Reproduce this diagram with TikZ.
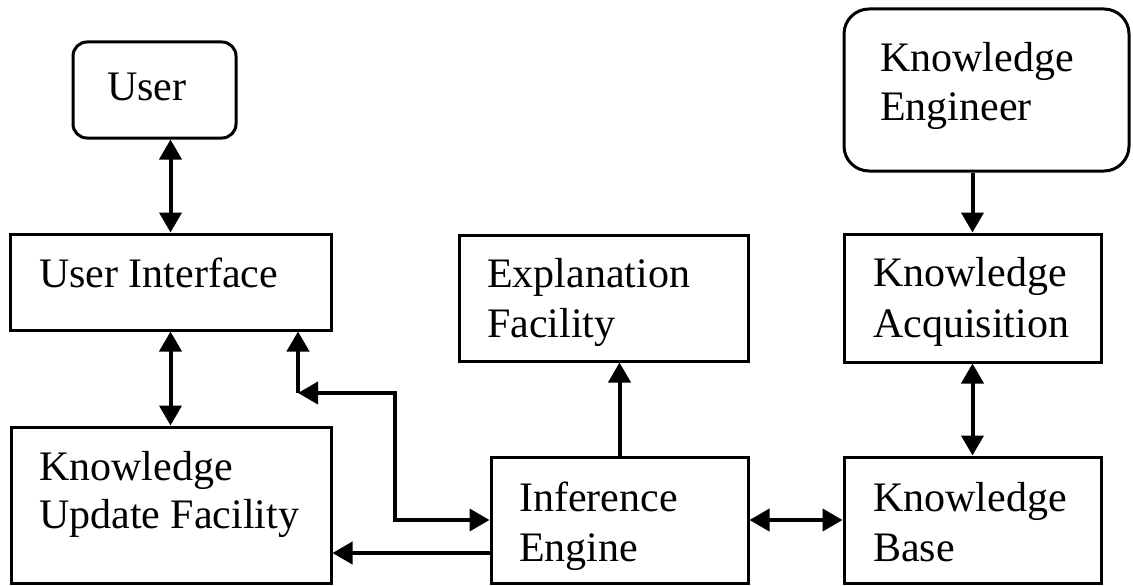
\documentclass[tikz,border=0pt]{standalone}
\usepackage{fontspec}
\setmainfont{Liberation Serif}
\usetikzlibrary{arrows.meta}
\begin{document}
\begin{tikzpicture}[x=1pt,y=-1pt,
  box/.style={draw=black,line width=3pt,minimum width=#1,inner sep=0pt},
  rbox/.style={box=#1,rounded corners=14pt},
  label/.style={anchor=base west,inner sep=0pt,font=\fontsize{42}{50}\selectfont},
  conn/.style={line width=4pt,draw=black},
  tip/.tip={Triangle[length=20pt,width=22pt]}]
\useasboundingbox (0,0) rectangle (1133,586);

% boxes
\node[rbox=163pt,minimum height=96pt] (user) at (154.5,90) {};
\node[box=285pt,minimum height=162pt,rounded corners=25pt] (ke) at (986.5,90) {};
\node[box=321pt,minimum height=96pt] (ui) at (170.5,282) {};
\node[box=289pt,minimum height=126pt] (ef) at (603.5,298) {};
\node[box=257pt,minimum height=128pt] (ka) at (972.5,298) {};
\node[box=320pt,minimum height=156pt] (kuf) at (171,505) {};
\node[box=257pt,minimum height=126pt] (ie) at (619.5,520) {};
\node[box=257pt,minimum height=126pt] (kb) at (972.5,520) {};

% labels
\node[label] (tuser) at (107,100) {User};
\node[label] (tke1) at (880,72) {Knowledge};
\node[label] (tke2) at (880,120) {Engineer};
\node[label] (tui) at (39,287) {User Interface};
\node[label] (tef1) at (487,287) {Explanation};
\node[label] (tef2) at (487,337) {Facility};
\node[label] (tka1) at (873,286) {Knowledge};
\node[label] (tka2) at (873,337) {Acquisition};
\node[label] (tkuf1) at (39,480) {Knowledge};
\node[label] (tkuf2) at (39,528) {Update Facility};
\node[label] (tie1) at (519,511) {Inference};
\node[label] (tie2) at (519,561) {Engine};
\node[label] (tkb1) at (873,511) {Knowledge};
\node[label] (tkb2) at (873,561) {Base};

% routing points
\coordinate (bend) at (395,393);
\coordinate (elbow) at (298,393);
\coordinate (ieout) at ([yshift=-33pt]ie.west);

% connectors
\draw[conn,{tip}-{tip}] (user.south -| ui.north) -- (ui.north);
\draw[conn,{tip}-{tip}] (ui.south) -- (ui.south |- kuf.north);
\draw[conn,-{tip}] (ka.north |- ke.south) -- (ka.north);
\draw[conn,{tip}-{tip}] (ka.south) -- (kb.north);
\draw[conn,-{tip}] (ie.north) -- (ie.north |- ef.south);
\draw[conn,{tip}-{tip}] (ie.east) -- (kb.west);
\draw[conn,{tip}-{tip}] (ie.west) -- (bend |- ie.west) -- (bend) -- (elbow);
\draw[conn,-{tip}] (elbow) -- (elbow |- ui.south);
\draw[conn,-{tip}] (ieout) -- (ieout -| kuf.east);
\end{tikzpicture}
\end{document}
